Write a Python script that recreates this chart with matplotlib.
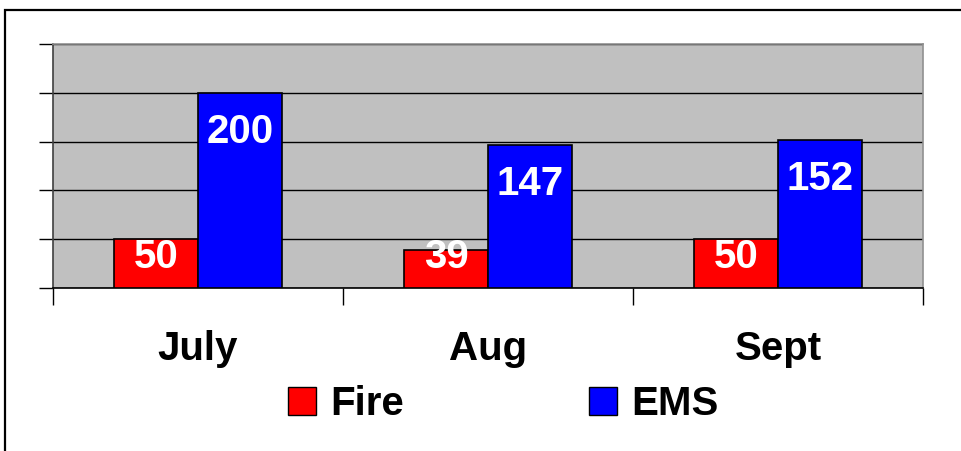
import numpy as np
import matplotlib.pyplot as plt
from matplotlib.patches import Rectangle, Patch

plt.rcParams['font.family'] = ['Liberation Sans', 'DejaVu Sans']

# data
MONTHS = ["July", "Aug", "Sept"]
FIRE = [50, 39, 50]
EMS = [200, 147, 152]
SERIES_NAMES = ["Fire", "EMS"]
Y_TICKS = [0, 50, 100, 150, 200, 250]

FIRE_COLOR = "#FF0000"
EMS_COLOR = "#0000FF"
BG_GRAY = "#C0C0C0"
FS = 29

fig = plt.figure(figsize=(9.61, 4.51), dpi=100)
W, H = 961, 451

# outer chart frame (extends past right / bottom edge)
fig.patches.append(Rectangle((5 / W, -0.1), 1.2, (H - 9.5) / H + 0.1,
                             transform=fig.transFigure, fill=False,
                             edgecolor="black", linewidth=1.6))

ax = fig.add_axes([53 / W, 1 - 288 / H, (923 - 53) / W, (288 - 44) / H])
ax.set_facecolor(BG_GRAY)

x = np.arange(len(MONTHS))
bw = 0.29
ax.bar(x - bw / 2, FIRE, bw, color=FIRE_COLOR, edgecolor="black", linewidth=1.2, zorder=3)
ax.bar(x + bw / 2, EMS, bw, color=EMS_COLOR, edgecolor="black", linewidth=1.2, zorder=3)

# value labels, white bold inside bars
for xi, v in zip(x - bw / 2, FIRE):
    ax.text(xi, max(v - 40, 32), str(v), ha="center", va="center",
            color="white", fontsize=FS, fontweight="bold", zorder=4)
for xi, v in zip(x + bw / 2, EMS):
    ax.text(xi, max(v - 40, 32), str(v), ha="center", va="center",
            color="white", fontsize=FS, fontweight="bold", zorder=4)

ax.set_xlim(-0.5, len(MONTHS) - 0.5)
ax.set_ylim(0, 250)
ax.set_yticks(Y_TICKS)
ax.set_yticklabels([])
ax.yaxis.grid(True, color="black", linewidth=1.0, zorder=1)
ax.tick_params(axis="y", length=10, width=1, direction="out")

# category boundary ticks
ax.set_xticks(np.arange(-0.5, len(MONTHS)), minor=False)
ax.set_xticklabels([])
ax.tick_params(axis="x", length=12, width=1, direction="out")
for xi, m in zip(x, MONTHS):
    ax.text(xi, -0.25, m, transform=ax.get_xaxis_transform(), ha="center",
            va="center", fontsize=FS, fontweight="bold")

ax.spines["left"].set_color("#404040")
ax.spines["bottom"].set_color("black")
ax.spines["top"].set_color("#909090")
ax.spines["right"].set_color("#909090")
for s in ax.spines.values():
    s.set_linewidth(1.2)

handles = [Patch(facecolor=FIRE_COLOR, edgecolor="black"),
           Patch(facecolor=EMS_COLOR, edgecolor="black")]
fig.legend(handles, SERIES_NAMES, loc="center", bbox_to_anchor=(503 / W, 1 - 404 / H),
           ncol=2, frameon=False, prop={"weight": "bold", "size": FS},
           handlelength=0.7, handleheight=0.7, handletextpad=0.35, columnspacing=4.6)

fig.savefig("out.png", dpi=100)
